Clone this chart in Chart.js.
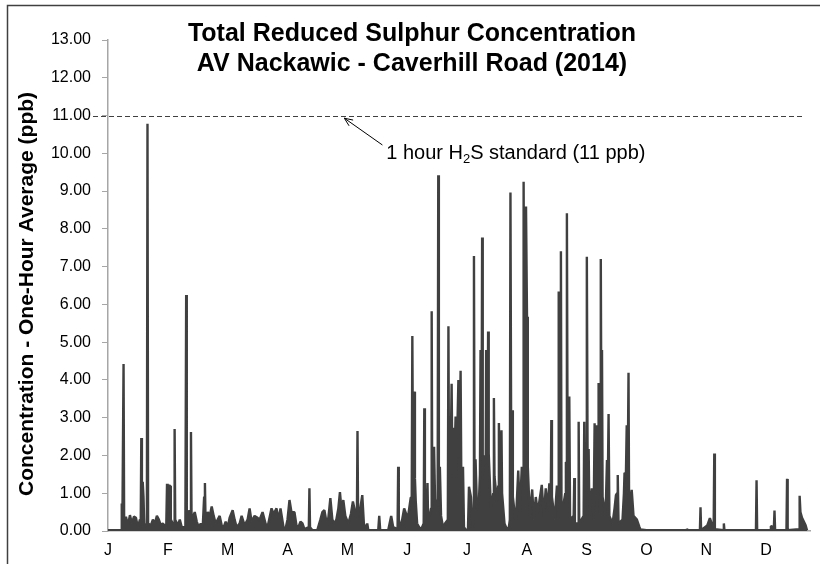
<!DOCTYPE html>
<html>
<head>
<meta charset="utf-8">
<script src="https://cdn.jsdelivr.net/npm/chart.js@4/dist/chart.umd.min.js"></script>
<style>
  html, body { margin: 0; padding: 0; background: #fff; }
  #wrap { position: relative; width: 820px; height: 564px; }
</style>
</head>
<body>
<div id="wrap"><canvas id="chart" width="820" height="564"></canvas></div>
<script>
// month ticks along the year axis
const months = ["J", "F", "M", "A", "M", "J", "J", "A", "S", "O", "N", "D"];
const monthTicks = [0, 30, 60, 90, 120, 150, 180, 210, 240, 270, 300, 330];
const yTicks = [0, 1, 2, 3, 4, 5, 6, 7, 8, 9, 10, 11, 12, 13];
const h2sStandard = 11;

// time position (axis units) and one-hour TRS concentration (ppb)
const days = [
  0, 6.6, 6.9, 7.2, 7.5, 7.8, 8.1, 9, 10, 11, 12, 13, 14, 15, 16, 16.4, 16.7, 17, 17.4, 17.8,
  18.2, 19.5, 19.8, 20.1, 21.5, 22.5, 23.5, 24.5, 25.5, 26.5, 27.5, 29.2, 29.6, 29.9, 30.6, 31.2, 31.5, 32.5, 33.1, 33.4,
  33.7, 35, 36, 37, 38.8, 39.2, 39.5, 40.8, 41.3, 41.6, 41.9, 43.5, 44.5, 45.5, 46.5, 47.5, 48.2, 48.6, 48.9, 50,
  51, 52, 53, 54, 55, 56, 57, 58, 59, 60, 61, 62.5, 63.5, 64.5, 66, 67, 68.5, 70, 71, 72,
  73.5, 75, 76, 77.5, 79, 80, 82, 83, 84.5, 85.5, 86.5, 88, 89, 90, 91, 92, 93.5, 94.5, 95.5, 96.5,
  97.5, 98.5, 100.7, 101, 101.3, 102.5, 105, 106.5, 107.5, 108.5, 109.5, 110.5, 111.5, 112.5, 113.5, 114.5, 115.5, 116.3, 117.2, 118,
  119, 120.5, 121.8, 122.8, 124.8, 125.1, 125.4, 126.5, 127.5, 128.3, 129.5, 130, 130.5, 132.5, 135.5, 136, 136.5, 140.5, 142, 143,
  145.2, 145.5, 145.8, 147.5, 148.5, 149.5, 150.5, 151.8, 152.3, 152.6, 153, 153.4, 153.6, 153.9, 154.3, 155, 156.5, 157.5, 158.3, 158.6,
  158.9, 159.8, 160.2, 160.5, 161.3, 162, 162.3, 162.6, 163.5, 164, 165.3, 165.6, 165.9, 166.4, 167, 168, 169, 170.4, 170.7, 171,
  171.7, 172.3, 172.7, 173, 173.4, 174.3, 174.7, 175.7, 176.2, 176.8, 177.2, 178, 178.5, 179.5, 180.5, 181, 182, 182.8, 183.2, 183.5,
  183.8, 184.3, 185, 186, 186.5, 186.8, 187.3, 187.6, 187.9, 189, 189.4, 189.6, 190.3, 190.6, 190.9, 192, 193.2, 193.5, 193.8, 195,
  195.7, 196, 196.4, 197, 197.3, 197.6, 198.8, 200, 201, 201.5, 201.8, 202.2, 202.6, 203, 204.5, 205.7, 206.5, 207.5, 208.1, 208.4,
  208.8, 209.3, 209.6, 210.1, 210.5, 211.5, 212.7, 213.5, 214.5, 215.5, 217.5, 218.5, 219.5, 220.5, 221.3, 222, 222.3, 222.6, 224, 225.1,
  225.7, 226, 226.4, 226.8, 227.1, 227.4, 229.3, 229.6, 229.9, 230.1, 230.5, 231.3, 231.7, 233.5, 233.8, 234.1, 235.7, 236, 236.3, 238.5,
  238.8, 239.2, 239.8, 240.1, 240.5, 241, 241.4, 242.6, 243.5, 244, 244.4, 244.8, 245.2, 245.7, 246, 246.8, 247.1, 247.5, 247.7, 248,
  249.5, 250.2, 250.6, 251, 251.4, 253, 254, 254.7, 255.3, 255.6, 256, 258, 258.7, 259, 259.7, 260.1, 260.6, 261, 261.3, 262.6,
  263.5, 265.2, 266.5, 267, 270, 290, 290.3, 290.6, 296.8, 297.1, 297.4, 300.5, 301.8, 303, 303.7, 304, 304.3, 308.5, 308.8, 309.1,
  324.9, 325.2, 325.5, 332, 332.4, 333.9, 334.2, 334.5, 340.2, 340.5, 340.8, 346.5, 346.8, 347.2, 348, 349.8, 350.5
];
const conc = [
  0.02, 0.03, 0.73, 0.1, 0.1, 4.42, 0.1, 0.38, 0.15, 0.42, 0.2, 0.38, 0.35, 0.1, 0.3, 0.1, 2.46, 0.3, 1.3, 0.9,
  0.1, 0.2, 10.78, 0.2, 0.15, 0.3, 0.2, 0.4, 0.3, 0.15, 0.2, 0.1, 1.25, 0.6, 1.2, 1.2, 0.3, 0.2, 0.2, 2.7,
  0.3, 0.15, 0.3, 0.1, 0.1, 6.25, 0.15, 0.55, 0.3, 2.62, 0.3, 0.5, 0.25, 0.1, 0.2, 0.1, 0.9, 1.27, 0.3, 0.5,
  0.4, 0.65, 0.4, 0.2, 0.3, 0.4, 0.15, 0.1, 0.25, 0.1, 0.35, 0.55, 0.3, 0.1, 0.2, 0.4, 0.15, 0.3, 0.6, 0.25,
  0.4, 0.35, 0.3, 0.5, 0.2, 0.1, 0.6, 0.45, 0.6, 0.3, 0.6, 0.1, 0.05, 0.3, 0.82, 0.5, 0.5, 0.15, 0.1, 0.25,
  0.2, 0.05, 0.1, 1.13, 0.1, 0.02, 0.03, 0.3, 0.5, 0.55, 0.25, 0.35, 0.87, 0.3, 0.2, 0.3, 0.6, 1.03, 0.5, 0.82,
  0.4, 0.2, 0.45, 0.78, 0.3, 2.65, 0.4, 0.6, 0.95, 0.2, 0.05, 0.2, 0.03, 0.02, 0.02, 0.4, 0.02, 0.02, 0.4, 0.1,
  0.05, 1.7, 0.05, 0.3, 0.6, 0.45, 0.4, 0.88, 0.9, 5.16, 1.0, 1.0, 3.69, 1.4, 0.8, 0.2, 0.05, 0.1, 0.2, 3.25,
  0.5, 0.5, 1.27, 0.3, 0.4, 0.6, 5.82, 0.6, 2.23, 0.8, 0.8, 9.42, 1.2, 1.7, 0.4, 0.1, 0.2, 0.3, 5.42, 1.2,
  1.5, 3.9, 1.5, 2.73, 1.3, 3.03, 1.5, 4.0, 1.8, 4.24, 1.0, 1.7, 0.1, 0.02, 0.05, 1.17, 0.9, 0.1, 0.3, 7.28,
  1.0, 1.9, 0.6, 0.8, 1.5, 4.79, 2.0, 7.77, 1.5, 2.0, 1.8, 4.79, 2.0, 5.28, 2.05, 0.6, 1.0, 3.52, 1.45, 0.8,
  1.2, 2.86, 1.5, 1.5, 2.67, 1.0, 0.2, 0.05, 0.1, 0.3, 8.96, 1.5, 3.2, 0.9, 0.2, 1.6, 0.5, 1.7, 1.5, 9.25,
  3.0, 3.0, 8.59, 5.67, 1.7, 0.4, 1.1, 0.3, 0.9, 0.5, 1.22, 0.4, 1.13, 0.6, 1.26, 0.8, 2.94, 0.9, 0.3, 1.2,
  1.0, 6.34, 0.5, 0.8, 7.41, 0.4, 1.0, 1.83, 1.8, 8.41, 1.0, 3.56, 0.3, 0.4, 1.4, 0.2, 0.2, 2.89, 0.2, 0.4,
  2.89, 0.4, 1.2, 7.26, 1.5, 2.17, 0.4, 1.13, 0.3, 2.85, 0.8, 2.8, 0.5, 1.0, 3.92, 1.2, 7.2, 1.0, 4.79, 0.9,
  0.4, 1.88, 1.2, 3.1, 0.4, 0.2, 0.6, 0.95, 1.0, 1.48, 0.2, 0.3, 1.0, 1.54, 1.5, 2.8, 1.5, 4.19, 0.5, 1.09,
  0.4, 0.3, 0.1, 0.04, 0.02, 0.02, 0.06, 0.02, 0.02, 0.63, 0.02, 0.15, 0.34, 0.15, 0.1, 2.05, 0.05, 0.02, 0.2, 0.02,
  0.02, 1.34, 0.02, 0.02, 0.13, 0.1, 0.54, 0.02, 0.02, 1.38, 0.02, 0.05, 0.93, 0.5, 0.35, 0.15, 0.02
];

const points = days.map((d, i) => ({ x: d, y: conc[i] }));

const font = "'Liberation Sans', Arial, sans-serif";

const decorations = {
  id: "decorations",
  beforeDraw(chart) {
    const ctx = chart.ctx;
    ctx.save();
    ctx.fillStyle = "#fff";
    ctx.fillRect(0, 0, chart.width, chart.height);
    // outer chart frame (left and top edges visible)
    ctx.strokeStyle = "#404040";
    ctx.lineWidth = 1.5;
    ctx.beginPath();
    ctx.moveTo(7.5, chart.height + 2);
    ctx.lineTo(7.5, 5.5);
    ctx.lineTo(chart.width + 2, 5.5);
    ctx.stroke();
    ctx.restore();
  },
  afterDraw(chart) {
    const ctx = chart.ctx;
    const xs = chart.scales.x, ys = chart.scales.y;
    const area = chart.chartArea;
    ctx.save();

    // title
    ctx.fillStyle = "#000";
    ctx.textAlign = "center";
    ctx.textBaseline = "middle";
    ctx.font = "bold 25px " + font;
    ctx.fillText("Total Reduced Sulphur Concentration", 412, 34);
    ctx.fillText("AV Nackawic - Caverhill Road (2014)", 412, 64);

    // y axis title
    ctx.save();
    ctx.translate(27, 294);
    ctx.rotate(-Math.PI / 2);
    ctx.font = "bold 21px " + font;
    ctx.fillText("Concentration - One-Hour Average (ppb)", 0, 0);
    ctx.restore();

    // 11 ppb standard line
    const yStd = Math.round(ys.getPixelForValue(h2sStandard)) + 0.5;
    ctx.strokeStyle = "#404040";
    ctx.lineWidth = 1;
    ctx.setLineDash([5, 3]);
    ctx.beginPath();
    ctx.moveTo(93, yStd);
    ctx.lineTo(area.right - 5, yStd);
    ctx.stroke();
    ctx.setLineDash([]);

    // arrow and label
    const tipX = xs.getPixelForValue(118.5), tipY = ys.getPixelForValue(10.93);
    const tailX = xs.getPixelForValue(137.6), tailY = ys.getPixelForValue(10.22);
    ctx.strokeStyle = "#000";
    ctx.lineWidth = 1;
    ctx.beginPath();
    ctx.moveTo(tailX, tailY);
    ctx.lineTo(tipX, tipY);
    const ang = Math.atan2(tailY - tipY, tailX - tipX);
    const head = 9;
    ctx.moveTo(tipX + head * Math.cos(ang - 0.4), tipY + head * Math.sin(ang - 0.4));
    ctx.lineTo(tipX, tipY);
    ctx.lineTo(tipX + head * Math.cos(ang + 0.4), tipY + head * Math.sin(ang + 0.4));
    ctx.stroke();

    let tx = xs.getPixelForValue(139.5);
    const ty = ys.getPixelForValue(10.0);
    ctx.textAlign = "left";
    ctx.textBaseline = "middle";
    const parts = [["1 hour H", 0], ["2", 1], ["S standard (11 ppb)", 0]];
    parts.forEach(([s, sub]) => {
      ctx.font = (sub ? "13px " : "20px ") + font;
      ctx.fillText(s, tx, sub ? ty + 6 : ty);
      tx += ctx.measureText(s).width;
    });
    ctx.restore();
  }
};

new Chart(document.getElementById("chart"), {
  type: "line",
  data: {
    datasets: [{
      data: points,
      borderColor: "#404040",
      backgroundColor: "#404040",
      borderWidth: 2.4,
      borderJoinStyle: "bevel",
      pointRadius: 0,
      tension: 0,
      fill: "origin"
    }]
  },
  options: {
    responsive: false,
    animation: false,
    layout: { padding: { left: 0, top: 40, right: 10, bottom: 0 } },
    plugins: { legend: { display: false }, tooltip: { enabled: false }, title: { display: false } },
    scales: {
      x: {
        type: "linear",
        min: 0,
        max: 352,
        afterBuildTicks: (axis) => { axis.ticks = monthTicks.map(v => ({ value: v })); },
        afterFit: (axis) => { axis.height = 33; },
        ticks: {
          autoSkip: false,
          maxRotation: 0,
          padding: 10,
          color: "#000",
          font: { family: font, size: 16 },
          callback: (v) => months[monthTicks.indexOf(v)]
        },
        grid: { display: false, drawTicks: false },
        border: { display: true, color: "#a6a6a6", width: 1.5 }
      },
      y: {
        min: 0,
        max: 13,
        afterBuildTicks: (axis) => { axis.ticks = yTicks.map(v => ({ value: v })); },
        afterFit: (axis) => { axis.width = 108; },
        ticks: {
          padding: 11,
          color: "#000",
          font: { family: font, size: 16 },
          callback: (v) => v.toFixed(2)
        },
        grid: { drawOnChartArea: false, drawTicks: true, tickLength: 6, color: "#a6a6a6" },
        border: { display: true, color: "#a6a6a6", width: 1.5 }
      }
    }
  },
  plugins: [decorations]
});
</script>
</body>
</html>
